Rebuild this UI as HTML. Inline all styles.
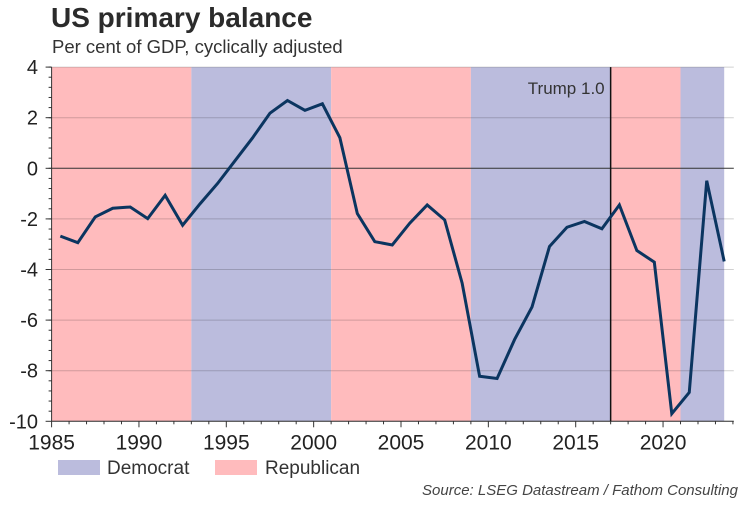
<!DOCTYPE html>
<html><head><meta charset="utf-8"><style>
body{margin:0;background:#fff;width:750px;height:500px;overflow:hidden;font-family:"Liberation Sans",sans-serif}
</style></head><body>
<svg width="750" height="500" font-family="Liberation Sans, sans-serif">
<text x="51" y="27" font-size="28" font-weight="bold" fill="#2b2b2b">US primary balance</text>
<text x="52" y="53" font-size="18.5" fill="#333">Per cent of GDP, cyclically adjusted</text>
<g id="plot"></g>
<rect x="58" y="460" width="42" height="15" fill="#BBBCDD"/>
<text x="107" y="474" font-size="19" fill="#333">Democrat</text>
<rect x="215" y="460" width="42" height="15" fill="#FFBBBD"/>
<text x="265" y="474" font-size="19" fill="#333">Republican</text>
<text x="738" y="495" font-size="15" font-style="italic" fill="#444" text-anchor="end">Source: LSEG Datastream / Fathom Consulting</text>
</svg>
<script>
const years=[1985.5,1986.5,1987.5,1988.5,1989.5,1990.5,1991.5,1992.5,1993.5,1994.5,1995.5,1996.5,1997.5,1998.5,1999.5,2000.5,2001.5,2002.5,2003.5,2004.5,2005.5,2006.5,2007.5,2008.5,2009.5,2010.5,2011.5,2012.5,2013.5,2014.5,2015.5,2016.5,2017.5,2018.5,2019.5,2020.5,2021.5,2022.5,2023.5];
const balance=[-2.68,-2.94,-1.92,-1.58,-1.53,-1.99,-1.07,-2.25,-1.4,-0.6,0.3,1.2,2.18,2.68,2.29,2.55,1.21,-1.79,-2.9,-3.03,-2.17,-1.45,-2.04,-4.54,-8.22,-8.31,-6.77,-5.48,-3.09,-2.33,-2.1,-2.39,-1.45,-3.25,-3.71,-9.7,-8.86,-0.49,-3.68];
const termStart=[1985,1993,2001,2009,2017,2021];
const termEnd=[1993,2001,2009,2017,2021,2023.5];
const termParty=["R","D","R","D","R","D"];
const yTicks=[4,2,0,-2,-4,-6,-8,-10];
const xTicks=[1985,1990,1995,2000,2005,2010,2015,2020];
const trumpYear=2017;
const X0=51.6,PX=17.47,Y0=168.3,PY=25.3;
const sx=v=>X0+(v-1985)*PX, sy=v=>Y0-v*PY;
const NS="http://www.w3.org/2000/svg",g=document.getElementById('plot');
function mk(t,a,p){const e=document.createElementNS(NS,t);for(const k in a)e.setAttribute(k,a[k]);(p||g).appendChild(e);return e;}
const plotTop=sy(4),plotBot=sy(-10),plotRight=sx(2024.05);
termStart.forEach((s,i)=>{const r=mk('rect',{x:sx(s),y:plotTop,width:sx(termEnd[i])-sx(s),height:plotBot-plotTop,fill:termParty[i]=="R"?"#FFBBBD":"#BBBCDD"});

});
yTicks.forEach(v=>{const l=mk('line',{x1:X0,x2:plotRight,y1:sy(v),y2:sy(v),stroke:v==0?"#333":"rgba(0,0,0,0.18)","stroke-width":1});


const t=mk('text',{x:38,y:sy(v)+7,"font-size":20,fill:"#222","text-anchor":"end"});t.textContent=v;

});
for(let v=4;v>=-10;v-=0.4){mk('line',{x1:X0-3,x2:X0,y1:sy(v),y2:sy(v),stroke:"#333"});}
yTicks.forEach(v=>mk('line',{x1:X0-6,x2:X0,y1:sy(v),y2:sy(v),stroke:"#333"}));
mk('line',{x1:X0,x2:X0,y1:plotTop,y2:plotBot,stroke:"#333"});
mk('line',{x1:X0,x2:plotRight,y1:plotBot,y2:plotBot,stroke:"#333"});
for(let y=1985;y<=2024;y++){mk('line',{x1:sx(y),x2:sx(y),y1:plotBot,y2:plotBot+(y%5==0?6:3),stroke:"#333"});}
xTicks.forEach(v=>{const t=mk('text',{x:sx(v),y:plotBot+28,"font-size":21,fill:"#222","text-anchor":"middle"});t.textContent=v;

});
const tl=mk('line',{x1:sx(trumpYear),x2:sx(trumpYear),y1:plotTop,y2:plotBot,stroke:"#111","stroke-width":1.5});


const tt=mk('text',{x:sx(trumpYear)-6,y:plotTop+27,"font-size":17,fill:"#333","text-anchor":"end"});tt.textContent="Trump 1.0";


const ln=mk('polyline',{points:years.map((y,i)=>sx(y)+","+sy(balance[i])).join(" "),fill:"none",stroke:"#0B3560","stroke-width":3,"stroke-linejoin":"miter"});


</script>
</body></html>
